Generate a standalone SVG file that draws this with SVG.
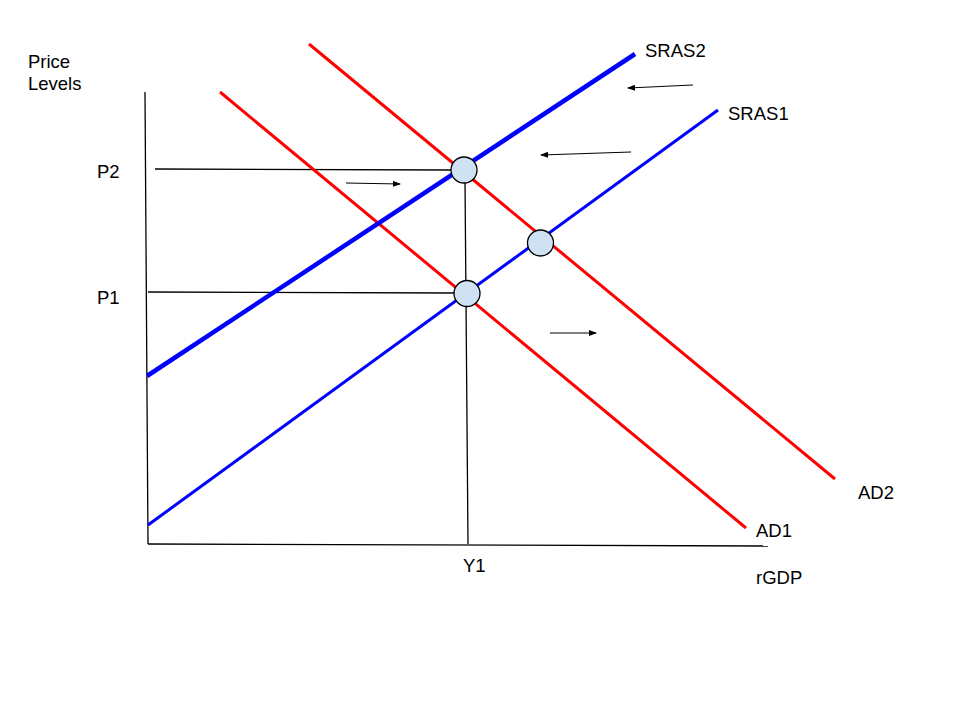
<svg xmlns="http://www.w3.org/2000/svg" width="960" height="720" viewBox="0 0 960 720">
<style>
text{font-family:"Liberation Sans",Arial,sans-serif;font-size:18.5px;fill:#000}
.ax{stroke:#000;stroke-width:1.3;fill:none}
.red{stroke:#ff0000;stroke-width:3;fill:none}
.blue{stroke:#0000ff;stroke-width:3;fill:none}
.blue2{stroke:#0000ff;stroke-width:4.5;fill:none}
.arr{stroke:#000;stroke-width:1.2;fill:none;marker-end:url(#ah)}
.pt{fill:#cfe2f3;stroke:#000;stroke-width:1.3}
</style>
<defs>
<marker id="ah" markerWidth="8" markerHeight="6" refX="7" refY="3" orient="auto" markerUnits="userSpaceOnUse">
<path d="M0,0 L8,3 L0,6 Z" fill="#000"/>
</marker>
</defs>
<rect width="960" height="720" fill="#fff"/>
<g id="axes">
<line class="ax" x1="145" y1="92" x2="148" y2="544"/>
<line class="ax" x1="148" y1="544" x2="768" y2="546"/>
</g>
<g id="connectors">
<line class="ax" x1="155" y1="169" x2="452" y2="170"/>
<line class="ax" x1="148" y1="292" x2="455" y2="293"/>
<line class="ax" x1="465" y1="180" x2="468" y2="544"/>
<line class="red" x1="220" y1="92" x2="746" y2="528"/>
<line class="red" x1="309" y1="44" x2="835" y2="479"/>
<line class="blue" x1="148" y1="525" x2="718" y2="110"/>
<line class="blue2" x1="147" y1="376" x2="635" y2="54"/>
<line class="arr" x1="346" y1="183" x2="400" y2="184"/>
<line class="arr" x1="693" y1="85" x2="628" y2="88"/>
<line class="arr" x1="631" y1="152" x2="541" y2="155"/>
<line class="arr" x1="550" y1="333" x2="596" y2="333"/>
</g>
<g id="e1"><circle class="pt" cx="464" cy="170" r="13"/></g>
<g id="e2"><circle class="pt" cx="540.5" cy="243" r="13"/></g>
<g id="e3"><circle class="pt" cx="467" cy="293.5" r="13"/></g>
<g id="labels">
<text x="28" y="68">Price</text>
<text x="28" y="90">Levels</text>
<text x="97" y="178">P2</text>
<text x="97" y="304">P1</text>
<text x="645" y="57">SRAS2</text>
<text x="728" y="120">SRAS1</text>
<text x="858" y="499">AD2</text>
<text x="756" y="537">AD1</text>
<text x="463" y="572">Y1</text>
<text x="756" y="584">rGDP</text>
</g>
</svg>
